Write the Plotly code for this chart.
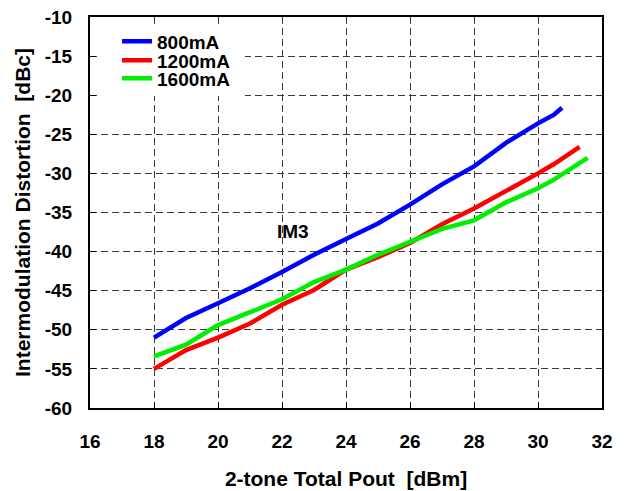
import plotly.graph_objects as go

# Data
x_800 = [18, 19, 20, 21, 22, 23, 24, 25, 26, 27, 28, 29, 30, 30.5, 30.75]
y_800 = [-51.0, -48.5, -46.6, -44.7, -42.6, -40.4, -38.4, -36.4, -34.0, -31.4, -29.1, -26.1, -23.6, -22.5, -21.6]

x_1200 = [18, 19, 20, 21, 22, 23, 24, 25, 26, 27, 28, 29, 30, 30.5, 31.3]
y_1200 = [-55.0, -52.6, -51.0, -49.2, -46.8, -44.9, -42.3, -40.7, -38.9, -36.5, -34.5, -32.3, -30.0, -28.8, -26.6]

x_1600 = [18, 19, 20, 21, 22, 23, 24, 25, 26, 27, 28, 29, 30, 30.5, 31.55]
y_1600 = [-53.4, -51.9, -49.4, -47.8, -46.1, -43.9, -42.3, -40.4, -38.8, -37.1, -36.0, -33.7, -31.9, -30.8, -28.0]

series = [
    ("800mA", x_800, y_800, "#0000ff"),
    ("1200mA", x_1200, y_1200, "#ff0000"),
    ("1600mA", x_1600, y_1600, "#00ee00"),
]

x_ticks = [16, 18, 20, 22, 24, 26, 28, 30, 32]
y_ticks = [-10, -15, -20, -25, -30, -35, -40, -45, -50, -55, -60]

FONT = "Liberation Sans, Arial, sans-serif"
W, H = 624, 491
ML, MR, MT, MB = 90, 22, 17, 83
PW, PH = W - ML - MR, H - MT - MB


def px_x(p):
    return (p - ML) / PW


def px_y(p):
    return 1 - (p - MT) / PH


fig = go.Figure()
legend_names = ["legend", "legend2", "legend3"]
for (name, xs, ys, col), lg in zip(series, legend_names):
    fig.add_trace(go.Scatter(x=xs, y=ys, mode="lines", name=name, legend=lg,
                             line=dict(color=col, width=4.5)))

fig.add_annotation(x=22.33, y=-37.4, text="IM3", showarrow=False,
                   font=dict(family=FONT, size=19, color="black", weight="bold"))

axis_common = dict(
    showline=True, linecolor="black", linewidth=2, mirror=True,
    ticks="inside", ticklen=6, tickcolor="black", tickwidth=1,
    showgrid=True, gridcolor="#3a3a3a", gridwidth=1, griddash="7px,4px",
    zeroline=False, automargin=False,
    tickfont=dict(family=FONT, size=19, color="black", weight="bold"),
)

fig.update_xaxes(range=[16, 32], tickvals=x_ticks, ticktext=[str(v) for v in x_ticks],
                 ticklabelstandoff=15,
                 title=dict(text="2-tone Total Pout  [dBm]", standoff=21,
                            font=dict(family=FONT, size=21, color="black", weight="bold")),
                 **axis_common)
fig.update_yaxes(range=[-60, -10], tickvals=y_ticks, ticktext=[str(v) for v in y_ticks],
                 ticklabelstandoff=12,
                 title=dict(text="Intermodulation Distortion  [dBc]", standoff=8,
                            font=dict(family=FONT, size=21, color="black", weight="bold")),
                 **axis_common)

# white box behind the legend block (hides gridlines like the reference)
fig.add_shape(type="rect", xref="paper", yref="paper", layer="above",
              x0=px_x(97), x1=px_x(245), y0=px_y(96), y1=px_y(27),
              fillcolor="white", line=dict(width=0))

legend_rows = [41.5, 60.5, 78.5]
leg_font = dict(family=FONT, size=19, color="black", weight="bold")
legend_layout = {}
for lg, row in zip(legend_names, legend_rows):
    legend_layout[lg] = dict(x=px_x(117), y=px_y(row), xanchor="left", yanchor="middle",
                             bgcolor="rgba(0,0,0,0)", borderwidth=0,
                             font=leg_font, itemwidth=30)

fig.update_layout(
    width=W, height=H,
    margin=dict(l=ML, r=MR, t=MT, b=MB),
    paper_bgcolor="white", plot_bgcolor="white",
    showlegend=True,
    **legend_layout,
)

fig.write_html("out.html")
